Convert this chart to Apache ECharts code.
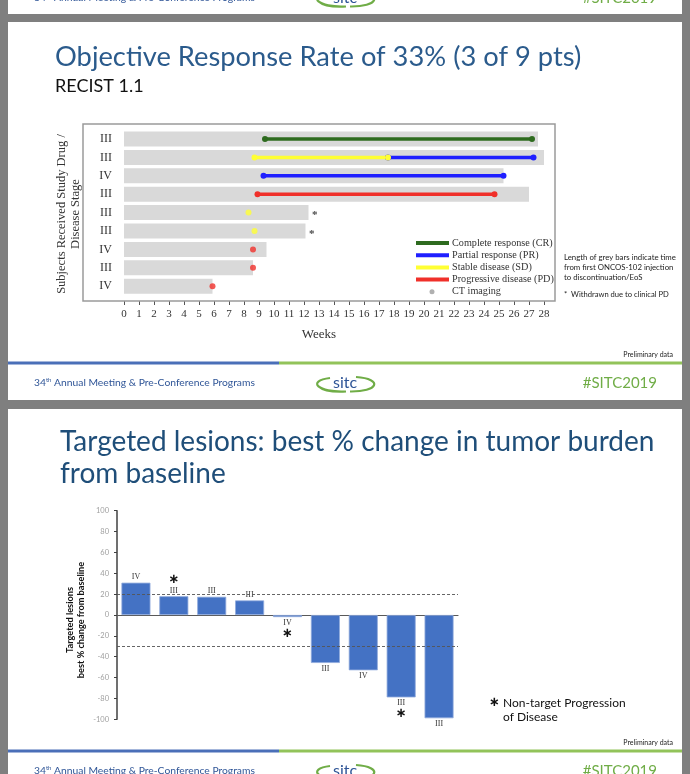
<!DOCTYPE html>
<html>
<head>
<meta charset="utf-8">
<script src="https://cdn.jsdelivr.net/npm/echarts/dist/echarts.min.js"></script>
<style>
html,body{margin:0;padding:0;background:#7f7f7f;}
#chart{width:690px;height:774px;}
</style>
</head>
<body>
<div id="chart"></div>
<script>
// ---------- DATA: swimmer plot (slide 1) ----------
const swimStages = ['III','III','IV','III','III','III','IV','III','IV'];
const treatmentWeeks = [27.6, 28.3, 25.3, 27.0, 12.3, 12.1, 9.5, 8.6, 5.9];
// [row, startWeek, endWeek]
const crSegments = [[0, 9.4, 27.2]];
const prSegments = [[1, 17.6, 27.3], [2, 9.3, 25.3]];
const sdSegments = [[1, 8.7, 17.6]];
const pdSegments = [[3, 8.9, 24.7]];
// [row, week]
const sdDots = [[4, 8.3], [5, 8.7]];
const pdDots = [[6, 8.6], [7, 8.6], [8, 5.9]];
const withdrawnRows = [4, 5];
const weekMin = 0, weekMax = 28;
const legendNames = ['Complete response (CR)','Partial response (PR)','Stable disease (SD)','Progressive disease (PD)','CT imaging'];

// ---------- DATA: waterfall (slide 2) ----------
const lesionChange = [31, 18, 17.5, 14, -2, -46, -53, -79, -99];
const lesionStages = ['IV','III','III','III','IV','III','IV','III','III'];
const nonTargetPD = [false, true, false, false, true, false, false, true, false];
const thresholds = [20, -30];
const pctMin = -100, pctMax = 100, pctStep = 20;

// ---------- STYLE ----------
const C = {
  CR: '#2e6b1f', PR: '#1f1fff', SD: '#ffff33', PD: '#f0302a', CT: '#b0b0b0',
  grey: '#d9d9d9', bar: '#4472c4', blue: '#2f5597', green: '#70ad47'
};
const SANS = 'Lato';
const SERIF = 'Liberation Serif';

const chart = echarts.init(document.getElementById('chart'), null, {renderer: 'canvas'});

function segSeries(segs, color, name) {
  return segs.map(s => ({
    type: 'line', name: name, xAxisIndex: 0, yAxisIndex: 0, silent: true,
    data: [[s[1], s[0]], [s[2], s[0]]],
    symbol: 'circle', symbolSize: 6, showSymbol: true,
    lineStyle: {color: color, width: 3.5},
    itemStyle: {color: color}, z: 5
  }));
}
function dotSeries(dots, color) {
  return {
    type: 'scatter', xAxisIndex: 0, yAxisIndex: 0, silent: true,
    data: dots.map(d => [d[1], d[0]]),
    symbolSize: 6, itemStyle: {color: color}, z: 6
  };
}

function footer(lineY) {
  const els = [];
  els.push({type: 'line', shape: {x1: 8, y1: lineY, x2: 279, y2: lineY}, style: {stroke: '#4a6fb8', lineWidth: 3}});
  els.push({type: 'line', shape: {x1: 279, y1: lineY, x2: 682, y2: lineY}, style: {stroke: '#92c35a', lineWidth: 3}});
  els.push({type: 'text', x: 34, y: lineY + 20, style: {
    text: '34{sup|th} Annual Meeting & Pre-Conference Programs', font: '10.3px ' + SANS, fill: C.blue,
    verticalAlign: 'middle', textVerticalAlign: 'middle',
    rich: {sup: {fontSize: 6, fontFamily: SANS, fill: C.blue, color: C.blue, verticalAlign: 'top', padding: [0,0,5,0]}}
  }});
  els.push({type: 'text', x: 657, y: lineY + 20, style: {
    text: '#SITC2019', font: '15px ' + SANS, fill: C.green, textAlign: 'right', align: 'right',
    verticalAlign: 'middle', textVerticalAlign: 'middle'
  }});
  const cy = lineY + 21;
  els.push({type: 'bezierCurve', shape: {x1: 330, y1: cy - 6, cpx1: 306, cpy1: cy - 3, cpx2: 318, cpy2: cy + 9, x2: 346, y2: cy + 7.5},
    style: {stroke: C.green, lineWidth: 2.2, fill: null}});
  els.push({type: 'bezierCurve', shape: {x1: 356, y1: cy - 7, cpx1: 384, cpy1: cy - 5, cpx2: 378, cpy2: cy + 8, x2: 350, y2: cy + 7.5},
    style: {stroke: C.green, lineWidth: 2.2, fill: null}});
  els.push({type: 'text', x: 345, y: cy - 1, style: {
    text: 'sitc', font: '16px ' + SANS, fill: C.blue, textAlign: 'center', align: 'center',
    verticalAlign: 'middle', textVerticalAlign: 'middle'
  }});
  els.push({type: 'text', x: 673, y: lineY - 8, style: {
    text: 'Preliminary data', font: '7px ' + SANS, fill: '#222', textAlign: 'right', align: 'right',
    verticalAlign: 'middle', textVerticalAlign: 'middle'
  }});
  return els;
}

function txt(x, y, text, font, fill, extra) {
  return Object.assign({type: 'text', x: x, y: y, style: Object.assign({
    text: text, font: font, fill: fill, verticalAlign: 'middle', textVerticalAlign: 'middle'
  }, extra || {})});
}

const graphics = [];
graphics.push({type: 'rect', shape: {x: 8, y: -20, width: 674, height: 34}, style: {fill: '#fff'}, z: -10});
graphics.push({type: 'rect', shape: {x: 8, y: 22, width: 674, height: 378}, style: {fill: '#fff'}, z: -10});
graphics.push({type: 'rect', shape: {x: 8, y: 409, width: 674, height: 400}, style: {fill: '#fff'}, z: -10});
footer(-22).forEach(e => graphics.push(e));
footer(363).forEach(e => graphics.push(e));
footer(751).forEach(e => graphics.push(e));

// slide 1 titles
graphics.push(txt(55, 57, 'Objective Response Rate of 33% (3 of 9 pts)', '27.3px ' + SANS, '#2b5b8c'));
graphics.push(txt(55, 86, 'RECIST 1.1', '18px ' + SANS, '#111'));
graphics.push({type: 'rect', shape: {x: 83, y: 124, width: 472, height: 177}, style: {fill: null, stroke: '#9a9a9a', lineWidth: 1.5}, z: 1});
graphics.push({type: 'text', x: 62, y: 214, rotation: Math.PI / 2, style: {
  text: 'Subjects Received Study Drug /', font: '12.5px ' + SERIF, fill: '#333',
  textAlign: 'center', align: 'center', verticalAlign: 'middle', textVerticalAlign: 'middle'}});
graphics.push({type: 'text', x: 76, y: 214, rotation: Math.PI / 2, style: {
  text: 'Disease Stage', font: '12.5px ' + SERIF, fill: '#333',
  textAlign: 'center', align: 'center', verticalAlign: 'middle', textVerticalAlign: 'middle'}});
graphics.push(txt(319, 335, 'Weeks', '13px ' + SERIF, '#333', {textAlign: 'center', align: 'center'}));
const legColors = [C.CR, C.PR, C.SD, C.PD];
legendNames.forEach((n, i) => {
  const y = 243 + i * 12.2;
  if (i < 4) {
    graphics.push({type: 'line', shape: {x1: 416, y1: y, x2: 449, y2: y}, style: {stroke: legColors[i], lineWidth: 4}, z: 3});
  } else {
    graphics.push({type: 'circle', shape: {cx: 432, cy: y, r: 2.5}, style: {fill: C.CT}, z: 3});
  }
  graphics.push(txt(452, y, n, '10.2px ' + SERIF, '#333', {}));
});
['Length of grey bars indicate time', 'from first ONCOS-102 injection', 'to discontinuation/EoS'].forEach((t, i) => {
  graphics.push(txt(564, 257 + i * 10.2, t, '7.8px ' + SANS, '#222'));
});
graphics.push(txt(564, 295, '*  Withdrawn due to clinical PD', '7.6px ' + SANS, '#222'));

// slide 2 titles
graphics.push(txt(60, 442, 'Targeted lesions: best % change in tumor burden', '28px ' + SANS, '#1f4e79'));
graphics.push(txt(60, 474, 'from baseline', '28px ' + SANS, '#1f4e79'));
graphics.push({type: 'text', x: 70, y: 620, rotation: Math.PI / 2, style: {
  text: 'Targeted lesions', font: 'bold 9.2px ' + SANS, fill: '#111',
  textAlign: 'center', align: 'center', verticalAlign: 'middle', textVerticalAlign: 'middle'}});
graphics.push({type: 'text', x: 81, y: 620, rotation: Math.PI / 2, style: {
  text: 'best % change from baseline', font: 'bold 9.2px ' + SANS, fill: '#111',
  textAlign: 'center', align: 'center', verticalAlign: 'middle', textVerticalAlign: 'middle'}});
graphics.push(txt(489, 703, '\u2217', 'bold 13px DejaVu Sans', '#111'));
graphics.push(txt(503, 703, 'Non-target Progression', '12px ' + SANS, '#111'));
graphics.push(txt(503, 717, 'of Disease', '12px ' + SANS, '#111'));

const series = [];
series.push({
  type: 'bar', xAxisIndex: 0, yAxisIndex: 0, silent: true,
  data: treatmentWeeks, barWidth: 15, itemStyle: {color: C.grey}, z: 2
});
segSeries(crSegments, C.CR, 'CR').forEach(s => series.push(s));
segSeries(prSegments, C.PR, 'PR').forEach(s => series.push(s));
segSeries(sdSegments, C.SD, 'SD').forEach(s => series.push(s));
segSeries(pdSegments, C.PD, 'PD').forEach(s => series.push(s));
series.push(dotSeries(sdDots, C.SD));
series.push(dotSeries(pdDots, C.PD));
series.push({
  type: 'scatter', xAxisIndex: 0, yAxisIndex: 0, silent: true,
  data: withdrawnRows.map(r => [treatmentWeeks[r], r]),
  symbolSize: 1, itemStyle: {color: 'rgba(0,0,0,0)'},
  label: {show: true, position: 'right', distance: 3, offset: [0, 3], formatter: '*', fontFamily: SERIF, fontSize: 11, fontWeight: 'bold', color: '#111'}
});
series.push({
  type: 'bar', xAxisIndex: 1, yAxisIndex: 1, silent: true, barWidth: 29,
  data: lesionChange.map((v, i) => {
    const star = nonTargetPD[i];
    const pos = v >= 0 ? 'top' : 'bottom';
    let fmt;
    if (v >= 0) fmt = (star ? '{a|\u2217}\n' : '') + '{s|' + lesionStages[i] + '}';
    else fmt = '{s|' + lesionStages[i] + '}' + (star ? '\n{a|\u2217}' : '');
    return {value: v, label: {show: true, position: pos, distance: 0, formatter: fmt}};
  }),
  itemStyle: {color: C.bar, borderColor: '#8faadc', borderWidth: 0.8},
  label: {rich: {
    s: {fontFamily: SERIF, fontSize: 8, color: '#333', lineHeight: 11},
    a: {fontFamily: 'DejaVu Sans', fontSize: 13, fontWeight: 'bold', color: '#111', lineHeight: 11}
  }},
  markLine: {
    silent: true, symbol: 'none', label: {show: false},
    lineStyle: {color: '#555', type: [3, 2], width: 0.9},
    data: thresholds.map(t => ({yAxis: t}))
  }
});

const option = {
  animation: false,
  backgroundColor: '#7f7f7f',
  graphic: {elements: graphics},
  grid: [
    {left: 124, width: 420, top: 129.8, height: 165.6, containLabel: false},
    {left: 117, width: 341, top: 510.7, height: 208.6, containLabel: false}
  ],
  xAxis: [
    {type: 'value', gridIndex: 0, min: weekMin, max: weekMax, interval: 1, offset: 5.6,
      axisLine: {show: false}, axisTick: {show: true, length: 4, lineStyle: {color: '#555'}},
      axisLabel: {fontFamily: SERIF, fontSize: 11, color: '#333', margin: 8}, splitLine: {show: false}},
    {type: 'category', gridIndex: 1, data: lesionChange.map((v, i) => 'Pt' + (i + 1)),
      axisLine: {show: true, onZero: true, lineStyle: {color: '#595959', width: 1.2}},
      axisTick: {show: false}, axisLabel: {show: false}}
  ],
  yAxis: [
    {type: 'category', gridIndex: 0, inverse: true, data: swimStages.map((s, i) => 'row' + i),
      axisLine: {show: false}, axisTick: {show: false},
      axisLabel: {formatter: (v, i) => swimStages[i], fontFamily: SERIF, fontSize: 12, color: '#333', margin: 12}},
    {type: 'value', gridIndex: 1, min: pctMin, max: pctMax, interval: pctStep,
      axisLine: {show: true, lineStyle: {color: '#404040', width: 1.5}},
      axisTick: {show: true, length: 3, lineStyle: {color: '#404040'}},
      axisLabel: {fontFamily: SANS, fontSize: 7.5, color: '#a0a0a0', margin: 8},
      splitLine: {show: false}}
  ],
  series: series
};
chart.setOption(option);
</script>
</body>
</html>
